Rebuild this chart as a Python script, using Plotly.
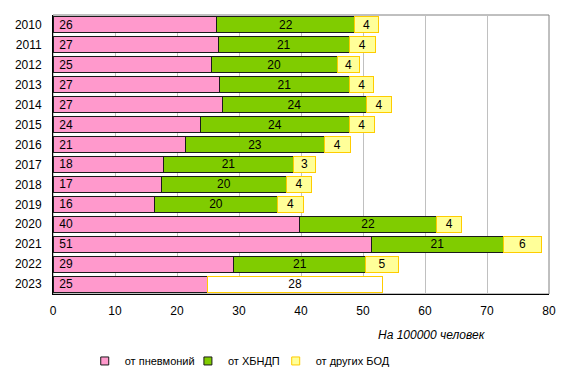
import plotly.graph_objects as go

years = ["2010", "2011", "2012", "2013", "2014", "2015", "2016",
         "2017", "2018", "2019", "2020", "2021", "2022", "2023"]
pneumonia = [26.45, 26.67, 25.5, 26.78, 27.26, 23.79, 21.38,
             17.8, 17.48, 16.35, 39.76, 51.37, 29.18, 24.96]
hbndp = [22.24, 21.1, 20.35, 21.1, 23.35, 23.99, 22.39,
         21.0, 20.15, 19.88, 22.13, 21.26, 21.27, None]
other = [3.74, 4.22, 3.59, 3.8, 3.96, 4.07, 4.17,
         3.55, 4.12, 4.17, 4.06, 6.15, 5.24, 28.17]
pneumonia_lbl = [26, 27, 25, 27, 27, 24, 21, 18, 17, 16, 40, 51, 29, 25]
hbndp_lbl = [22, 21, 20, 21, 24, 24, 23, 21, 20, 20, 22, 21, 21, None]
other_lbl = [4, 4, 4, 4, 4, 4, 4, 3, 4, 4, 4, 6, 5, 28]
xticks = [0, 10, 20, 30, 40, 50, 60, 70, 80]
series_names = ["от пневмоний", "от ХБНДП", "от других БОД"]
fill_colors = ["#FF99CC", "#80CC00", "#FFFF99"]
edge_colors = ["#1a1a1a", "#1a1a1a", "#FFCC00"]

FONT = "Liberation Sans, Arial, sans-serif"
TF = dict(color="black", size=12, family=FONT)

fig = go.Figure()
fig.add_trace(go.Bar(
    y=years, x=pneumonia, orientation="h", name=series_names[0], showlegend=False,
    marker=dict(color=fill_colors[0], line=dict(color=edge_colors[0], width=1)),
    text=["\u00a0" + str(v) for v in pneumonia_lbl], textposition="inside",
    insidetextanchor="start", textangle=0, textfont=TF, hoverinfo="skip"))
fig.add_trace(go.Bar(
    y=years, x=hbndp, orientation="h", name=series_names[1], showlegend=False,
    marker=dict(color=fill_colors[1], line=dict(color=edge_colors[1], width=1)),
    text=["" if v is None else str(v) for v in hbndp_lbl], textposition="inside",
    insidetextanchor="middle", textangle=0, textfont=TF, hoverinfo="skip"))
fig.add_trace(go.Bar(
    y=years, x=other, orientation="h", name=series_names[2], showlegend=False,
    marker=dict(color=[fill_colors[2]] * 13 + ["#FFFFFF"],
                line=dict(color=edge_colors[2], width=1)),
    text=[str(v) for v in other_lbl], textposition="inside",
    insidetextanchor="middle", textangle=0, textfont=TF,
    constraintext="none", hoverinfo="skip"))

# legend entries (small square swatches), one legend per entry for exact placement
legend_ids = ["legend", "legend2", "legend3"]
for name, fc, ec, lid in zip(series_names, fill_colors, edge_colors, legend_ids):
    fig.add_trace(go.Scatter(
        x=[None], y=[None], mode="markers", name=name, legend=lid,
        marker=dict(symbol="square", size=8, color=fc, line=dict(color=ec, width=1)),
        hoverinfo="skip"))

leg_common = dict(orientation="h", y=-0.24, xanchor="left", yanchor="middle",
                  font=dict(size=11, family=FONT), bgcolor="rgba(0,0,0,0)",
                  itemwidth=30)
fig.update_layout(
    width=564, height=380,
    margin=dict(l=42, r=23, t=7, b=94),
    barmode="stack", bargap=0.2,
    paper_bgcolor="white", plot_bgcolor="white",
    font=dict(family=FONT, size=12, color="black"),
    showlegend=True,
    legend=dict(x=0.064, **leg_common),
    legend2=dict(x=0.272, **leg_common),
    legend3=dict(x=0.449, **leg_common),
    uniformtext=dict(minsize=12, mode="show"),
)
fig.update_xaxes(range=[0, 80], tickvals=xticks, showgrid=True, gridcolor="#C0C0C0",
                 gridwidth=1, showline=True, linecolor="black", linewidth=1,
                 zeroline=False, ticks="", ticklabelstandoff=6,
                 tickfont=dict(size=12), fixedrange=True)
fig.update_yaxes(autorange="reversed", showline=True, linecolor="black", linewidth=1,
                 ticks="", ticklabelstandoff=8, tickfont=dict(size=12), showgrid=False)
fig.add_shape(type="rect", xref="paper", yref="paper", x0=0, x1=1, y0=0, y1=1,
              line=dict(color="#808080", width=1), layer="below")
fig.add_annotation(text="<i>На 100000 человек</i>", xref="paper", yref="paper",
                   x=0.878, y=-0.147, xanchor="right", yanchor="middle",
                   showarrow=False, font=dict(size=12, family=FONT))
fig.write_html("out.html")
